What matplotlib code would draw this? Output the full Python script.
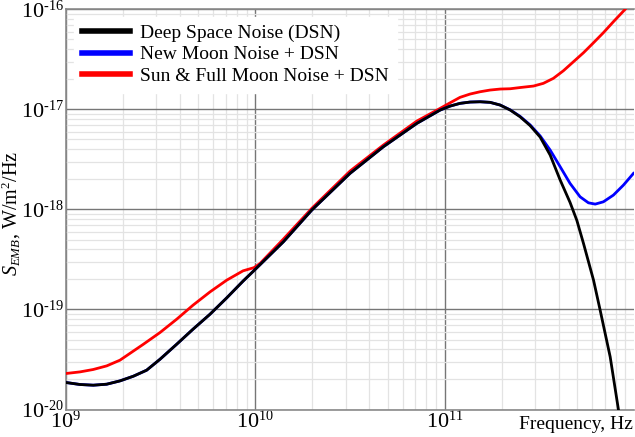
import io
import numpy as np
import matplotlib
matplotlib.use("Agg")
import matplotlib.pyplot as plt
from matplotlib.ticker import LogLocator, FixedLocator

plt.rcParams['font.family'] = ['Liberation Serif', 'DejaVu Serif']
plt.rcParams['mathtext.fontset'] = 'custom'
plt.rcParams['mathtext.rm'] = 'Liberation Serif'
plt.rcParams['mathtext.it'] = 'Liberation Serif:italic'
plt.rcParams['mathtext.bf'] = 'Liberation Serif:bold'

try:
    import matplotlib._mathtext as _mt
    if hasattr(_mt, 'SHRINK_FACTOR'):
        _mt.SHRINK_FACTOR = 0.64
except Exception:
    pass

# ---- data (log10 of frequency in Hz, log10 of S in W/m^2/Hz) ----
dsn_logf = [9.000, 9.074, 9.144, 9.215, 9.285, 9.356, 9.426, 9.497, 9.585, 9.671,
            9.761, 9.849, 9.935, 9.998, 10.148, 10.298, 10.500, 10.676, 10.853,
            10.976, 11.029, 11.081, 11.134, 11.187, 11.240, 11.293, 11.346, 11.398,
            11.451, 11.504, 11.557, 11.610, 11.662, 11.698, 11.733, 11.786, 11.821,
            11.874, 11.918, 11.935]
dsn_logs = [-19.730, -19.750, -19.757, -19.747, -19.714, -19.667, -19.607, -19.497,
            -19.347, -19.197, -19.047, -18.884, -18.717, -18.602, -18.324, -18.007,
            -17.640, -17.374, -17.140, -17.007, -16.967, -16.940, -16.927, -16.924,
            -16.930, -16.957, -17.007, -17.074, -17.162, -17.277, -17.457, -17.707,
            -17.930, -18.110, -18.340, -18.707, -19.007, -19.474, -20.007, -20.140]

moon_logf = [9.000, 9.074, 9.144, 9.215, 9.285, 9.356, 9.426, 9.497, 9.585, 9.671,
             9.761, 9.849, 9.935, 9.998, 10.148, 10.298, 10.500, 10.676, 10.853,
             10.976, 11.029, 11.081, 11.134, 11.187, 11.240, 11.293, 11.346, 11.398,
             11.451, 11.504, 11.557, 11.610, 11.662, 11.715, 11.759, 11.795, 11.838,
             11.891, 11.944, 11.997]
moon_logs = [-19.730, -19.750, -19.757, -19.747, -19.714, -19.667, -19.607, -19.497,
             -19.347, -19.197, -19.047, -18.884, -18.717, -18.602, -18.324, -18.007,
             -17.640, -17.374, -17.140, -17.007, -16.967, -16.940, -16.927, -16.924,
             -16.930, -16.957, -17.005, -17.070, -17.155, -17.265, -17.407, -17.574,
             -17.740, -17.874, -17.934, -17.947, -17.924, -17.857, -17.757, -17.640]

sun_logf = [9.000, 9.074, 9.144, 9.215, 9.285, 9.407, 9.497, 9.585, 9.671, 9.761,
            9.849, 9.935, 9.993, 10.025, 10.148, 10.298, 10.500, 10.676, 10.853,
            10.976, 11.029, 11.081, 11.134, 11.187, 11.240, 11.293, 11.346, 11.398,
            11.469, 11.521, 11.574, 11.627, 11.680, 11.733, 11.786, 11.838, 11.891,
            11.953, 11.995]
sun_logs = [-19.640, -19.624, -19.600, -19.564, -19.507, -19.350, -19.230, -19.097,
            -18.957, -18.824, -18.707, -18.614, -18.582, -18.540, -18.297, -17.990,
            -17.617, -17.357, -17.117, -16.990, -16.934, -16.880, -16.847, -16.824,
            -16.807, -16.797, -16.794, -16.782, -16.767, -16.740, -16.690, -16.614,
            -16.524, -16.434, -16.334, -16.234, -16.124, -16.000, -15.900]

labels = ["Deep Space Noise (DSN)", "New Moon Noise + DSN", "Sun & Full Moon Noise + DSN"]
colors = ["#000000", "#0000ff", "#ff0000"]
xticks = [1e9, 1e10, 1e11]
x_exps = ['9', '10', '11']
yticks = [1e-20, 1e-19, 1e-18, 1e-17, 1e-16]
y_exps = ['-20', '-19', '-18', '-17', '-16']


def _supports_text():
    try:
        from matplotlib import mathtext
        buf = io.BytesIO()
        mathtext.math_to_image(r'$10^{\text{-}16}$', buf, dpi=72, format='png')
        return True
    except Exception:
        return False


HYPHEN_OK = _supports_text()


def sup_label(e):
    if e.startswith('-'):
        if HYPHEN_OK:
            return r'$10^{\text{-}%s}$' % e[1:]
        return r'$10^{-%s}$' % e[1:]
    return r'$10^{%s}$' % e


fig = plt.figure(figsize=(6.35, 4.37), dpi=100)
ax = fig.add_axes([0.1039, 0.0629, 0.8946, 0.9158])

series = [(dsn_logf, dsn_logs), (moon_logf, moon_logs), (sun_logf, sun_logs)]
lines = {}
for i in [2, 1, 0]:
    lf, ls = series[i]
    ln, = ax.plot(10 ** np.array(lf), 10 ** np.array(ls), color=colors[i], lw=2.0,
                  label=labels[i], zorder=3 + (2 - i), solid_joinstyle='round')
    lines[i] = ln

ax.set_xscale('log')
ax.set_yscale('log')
ax.set_xlim(1e9, 1e12)
ax.set_ylim(1e-20, 1e-16)

ax.xaxis.set_major_locator(FixedLocator(xticks))
ax.yaxis.set_major_locator(FixedLocator(yticks))
ax.xaxis.set_minor_locator(LogLocator(base=10, subs=np.arange(2, 10)))
ax.yaxis.set_minor_locator(LogLocator(base=10, subs=np.arange(2, 10)))
ax.set_xticklabels([sup_label(e) for e in x_exps])
ax.set_yticklabels([sup_label(e) for e in y_exps])

ax.grid(which='major', color='#767676', lw=1.0, zorder=1)
ax.grid(which='minor', color='#e3e3e3', lw=0.9, zorder=0)
ax.set_axisbelow(True)
ax.tick_params(which='both', length=0, labelsize=16)
ax.tick_params(axis='y', pad=1.5)
ax.tick_params(axis='x', pad=1)

for s in ['left', 'bottom', 'top']:
    ax.spines[s].set_color('#8a8a8a')
    ax.spines[s].set_linewidth(1.2)
ax.spines['right'].set_visible(False)

ax.set_ylabel(r'$S_{EMB}$, W/m$^2$/Hz', fontsize=14.5)
ax.yaxis.set_label_coords(-0.076, 0.49)
ax.text(0.998, -0.015, 'Frequency, Hz', transform=ax.transAxes, ha='right', va='top',
        fontsize=14)

leg = ax.legend(handles=[lines[0], lines[1], lines[2]], loc='upper left', fontsize=14,
                bbox_to_anchor=(0.014, 0.982),
                frameon=True, framealpha=1.0, edgecolor='white', fancybox=False,
                handlelength=2.5, handletextpad=0.5, labelspacing=0.2,
                borderaxespad=0.0, borderpad=0.4)
for h in leg.legend_handles:
    h.set_linewidth(4)
leg.set_zorder(10)

fig.savefig('out.png', dpi=100)
